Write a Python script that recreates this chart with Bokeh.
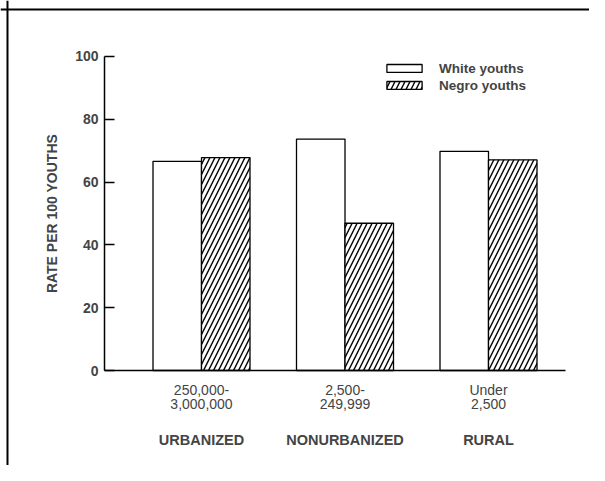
from bokeh.plotting import figure
from bokeh.models import (Range1d, LinearAxis, FixedTicker, ColumnDataSource,
                          Legend, LegendItem, Span)
from bokeh.transform import dodge
from bokeh.embed import file_html
from bokeh.resources import INLINE

# ---- data ----
groups = ["URBANIZED", "NONURBANIZED", "RURAL"]
size_labels = ["250,000-\n3,000,000", "2,500-\n249,999", "Under\n2,500"]
white_youths = [66.6, 73.7, 69.8]
negro_youths = [67.8, 46.9, 67.1]
y_ticks = [0, 20, 40, 60, 80, 100]
series_names = ["White youths", "Negro youths"]

xs = [1, 2, 3]
src = ColumnDataSource(dict(x=xs, white=white_youths, negro=negro_youths))

FONT = "Liberation Sans"

p = figure(width=589, height=465, x_range=Range1d(-0.4007, 3.7038),
           y_range=Range1d(-30.25, 117.83), min_border=0,
           toolbar_location=None, output_backend="svg",
           x_axis_type=None, y_axis_type=None)
p.outline_line_color = None
p.background_fill_color = "white"
p.border_fill_color = "white"

BW = 0.338
r_white = p.vbar(x=dodge("x", -BW / 2), top="white", width=BW, bottom=0, source=src,
                 fill_color="white", line_color="black", line_width=1.3)
r_negro = p.vbar(x=dodge("x", BW / 2), top="negro", width=BW, bottom=0, source=src,
                 fill_color="white", line_color="black", line_width=1.3,
                 hatch_pattern="/", hatch_color="black", hatch_scale=10,
                 hatch_weight=1.4)

# y axis
yax = LinearAxis(fixed_location=0.324, bounds=(0, 100),
                 ticker=FixedTicker(ticks=y_ticks))
yax.axis_line_width = 1.5
yax.major_tick_in = 10
yax.major_tick_out = 0
yax.major_tick_line_width = 1.3
yax.minor_tick_line_color = None
yax.major_label_standoff = 6
yax.major_label_text_font = FONT
yax.major_label_text_font_style = "bold"
yax.major_label_text_font_size = "14px"
yax.axis_label = "RATE PER 100 YOUTHS"
yax.axis_label_text_font = FONT
yax.axis_label_text_font_style = "bold"
yax.axis_label_text_font_size = "14px"
yax.axis_label_standoff = 12
p.add_layout(yax, "left")

# x axis with size labels
xax = LinearAxis(fixed_location=0, bounds=(0.324, 3.537),
                 ticker=FixedTicker(ticks=xs))
xax.axis_line_width = 1.5
xax.major_tick_line_color = None
xax.minor_tick_line_color = None
xax.major_label_overrides = {x: lab for x, lab in zip(xs, size_labels)}
xax.major_label_standoff = 5
xax.major_label_text_font = FONT
xax.major_label_text_font_size = "14px"
xax.major_label_text_line_height = 0.93
p.add_layout(xax, "below")

# group names axis
gax = LinearAxis(fixed_location=0, bounds=(0.324, 3.537),
                 ticker=FixedTicker(ticks=xs))
gax.axis_line_color = None
gax.major_tick_line_color = None
gax.minor_tick_line_color = None
gax.major_label_overrides = {x: g for x, g in zip(xs, groups)}
gax.major_label_standoff = 55
gax.major_label_text_font = FONT
gax.major_label_text_font_style = "bold"
gax.major_label_text_font_size = "14.5px"
p.add_layout(gax, "below")

legend = Legend(items=[LegendItem(label=series_names[0], renderers=[r_white]),
                       LegendItem(label=series_names[1], renderers=[r_negro])],
                location=(382, 372.5))
legend.glyph_width = 44
legend.glyph_height = 10
legend.label_standoff = 13
legend.padding = 0
legend.margin = 0
legend.spacing = 2
legend.label_height = 15
legend.border_line_color = None
legend.background_fill_alpha = 0
legend.label_text_font = FONT
legend.label_text_font_style = "bold"
legend.label_text_font_size = "13.5px"
p.add_layout(legend, "center")

# scanned page border (top and left edges)
p.add_layout(Span(location=114.97, dimension="width", line_color="black", line_width=2))
p.add_layout(Span(location=-0.352, dimension="height", line_color="black", line_width=2))

open("out.html", "w").write(file_html(p, INLINE))
